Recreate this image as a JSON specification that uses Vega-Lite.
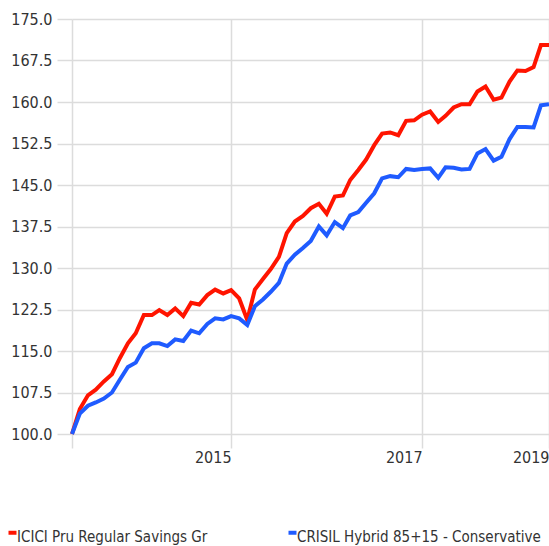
{
  "$schema": "https://vega.github.io/schema/vega-lite/v6.json",
  "autosize": "none",
  "width": 477,
  "height": 415,
  "padding": {"left": 72, "top": 19, "right": 0, "bottom": 112},
  "background": "white",
  "config": {
    "view": {"stroke": null},
    "font": "DejaVu Sans Condensed",
    "axis": {
      "grid": true,
      "gridColor": "#dcdcdc",
      "gridWidth": 1.5,
      "tickColor": "#dcdcdc",
      "tickWidth": 1.5,
      "domain": false,
      "labelFont": "DejaVu Sans Condensed",
      "labelFontSize": 16,
      "labelColor": "#333333",
      "title": null
    },
    "legend": {
      "labelFont": "DejaVu Sans Condensed",
      "labelFontSize": 15,
      "labelColor": "#333333"
    }
  },
  "data": {
    "values": [
      {"date": "2014-04-01", "series": "ICICI Pru Regular Savings Gr", "value": 100.0},
      {"date": "2014-05-01", "series": "ICICI Pru Regular Savings Gr", "value": 104.5},
      {"date": "2014-06-01", "series": "ICICI Pru Regular Savings Gr", "value": 107.0},
      {"date": "2014-07-01", "series": "ICICI Pru Regular Savings Gr", "value": 108.0},
      {"date": "2014-08-01", "series": "ICICI Pru Regular Savings Gr", "value": 109.5},
      {"date": "2014-09-01", "series": "ICICI Pru Regular Savings Gr", "value": 110.8},
      {"date": "2014-10-01", "series": "ICICI Pru Regular Savings Gr", "value": 113.7},
      {"date": "2014-11-01", "series": "ICICI Pru Regular Savings Gr", "value": 116.4},
      {"date": "2014-12-01", "series": "ICICI Pru Regular Savings Gr", "value": 118.2},
      {"date": "2015-01-01", "series": "ICICI Pru Regular Savings Gr", "value": 121.5},
      {"date": "2015-02-01", "series": "ICICI Pru Regular Savings Gr", "value": 121.5},
      {"date": "2015-03-01", "series": "ICICI Pru Regular Savings Gr", "value": 122.4},
      {"date": "2015-04-01", "series": "ICICI Pru Regular Savings Gr", "value": 121.5},
      {"date": "2015-05-01", "series": "ICICI Pru Regular Savings Gr", "value": 122.7},
      {"date": "2015-06-01", "series": "ICICI Pru Regular Savings Gr", "value": 121.3},
      {"date": "2015-07-01", "series": "ICICI Pru Regular Savings Gr", "value": 123.7},
      {"date": "2015-08-01", "series": "ICICI Pru Regular Savings Gr", "value": 123.4},
      {"date": "2015-09-01", "series": "ICICI Pru Regular Savings Gr", "value": 125.1},
      {"date": "2015-10-01", "series": "ICICI Pru Regular Savings Gr", "value": 126.1},
      {"date": "2015-11-01", "series": "ICICI Pru Regular Savings Gr", "value": 125.4},
      {"date": "2015-12-01", "series": "ICICI Pru Regular Savings Gr", "value": 126.0},
      {"date": "2016-01-01", "series": "ICICI Pru Regular Savings Gr", "value": 124.5},
      {"date": "2016-02-01", "series": "ICICI Pru Regular Savings Gr", "value": 120.6},
      {"date": "2016-03-01", "series": "ICICI Pru Regular Savings Gr", "value": 126.1},
      {"date": "2016-04-01", "series": "ICICI Pru Regular Savings Gr", "value": 128.0},
      {"date": "2016-05-01", "series": "ICICI Pru Regular Savings Gr", "value": 129.8},
      {"date": "2016-06-01", "series": "ICICI Pru Regular Savings Gr", "value": 132.0},
      {"date": "2016-07-01", "series": "ICICI Pru Regular Savings Gr", "value": 136.3},
      {"date": "2016-08-01", "series": "ICICI Pru Regular Savings Gr", "value": 138.4},
      {"date": "2016-09-01", "series": "ICICI Pru Regular Savings Gr", "value": 139.4},
      {"date": "2016-10-01", "series": "ICICI Pru Regular Savings Gr", "value": 140.8},
      {"date": "2016-11-01", "series": "ICICI Pru Regular Savings Gr", "value": 141.6},
      {"date": "2016-12-01", "series": "ICICI Pru Regular Savings Gr", "value": 139.8},
      {"date": "2017-01-01", "series": "ICICI Pru Regular Savings Gr", "value": 142.9},
      {"date": "2017-02-01", "series": "ICICI Pru Regular Savings Gr", "value": 143.1},
      {"date": "2017-03-01", "series": "ICICI Pru Regular Savings Gr", "value": 145.9},
      {"date": "2017-04-01", "series": "ICICI Pru Regular Savings Gr", "value": 147.7},
      {"date": "2017-05-01", "series": "ICICI Pru Regular Savings Gr", "value": 149.6},
      {"date": "2017-06-01", "series": "ICICI Pru Regular Savings Gr", "value": 152.2},
      {"date": "2017-07-01", "series": "ICICI Pru Regular Savings Gr", "value": 154.3},
      {"date": "2017-08-01", "series": "ICICI Pru Regular Savings Gr", "value": 154.5},
      {"date": "2017-09-01", "series": "ICICI Pru Regular Savings Gr", "value": 154.0},
      {"date": "2017-10-01", "series": "ICICI Pru Regular Savings Gr", "value": 156.6},
      {"date": "2017-11-01", "series": "ICICI Pru Regular Savings Gr", "value": 156.7},
      {"date": "2017-12-01", "series": "ICICI Pru Regular Savings Gr", "value": 157.7},
      {"date": "2018-01-01", "series": "ICICI Pru Regular Savings Gr", "value": 158.3},
      {"date": "2018-02-01", "series": "ICICI Pru Regular Savings Gr", "value": 156.4},
      {"date": "2018-03-01", "series": "ICICI Pru Regular Savings Gr", "value": 157.5},
      {"date": "2018-04-01", "series": "ICICI Pru Regular Savings Gr", "value": 159.0},
      {"date": "2018-05-01", "series": "ICICI Pru Regular Savings Gr", "value": 159.6},
      {"date": "2018-06-01", "series": "ICICI Pru Regular Savings Gr", "value": 159.6},
      {"date": "2018-07-01", "series": "ICICI Pru Regular Savings Gr", "value": 161.9},
      {"date": "2018-08-01", "series": "ICICI Pru Regular Savings Gr", "value": 162.8},
      {"date": "2018-09-01", "series": "ICICI Pru Regular Savings Gr", "value": 160.4},
      {"date": "2018-10-01", "series": "ICICI Pru Regular Savings Gr", "value": 160.8},
      {"date": "2018-11-01", "series": "ICICI Pru Regular Savings Gr", "value": 163.7},
      {"date": "2018-12-01", "series": "ICICI Pru Regular Savings Gr", "value": 165.7},
      {"date": "2019-01-01", "series": "ICICI Pru Regular Savings Gr", "value": 165.6},
      {"date": "2019-02-01", "series": "ICICI Pru Regular Savings Gr", "value": 166.3},
      {"date": "2019-03-01", "series": "ICICI Pru Regular Savings Gr", "value": 170.3},
      {"date": "2019-04-01", "series": "ICICI Pru Regular Savings Gr", "value": 170.3},
      {"date": "2014-04-01", "series": "CRISIL Hybrid 85+15 - Conservative", "value": 100.0},
      {"date": "2014-05-01", "series": "CRISIL Hybrid 85+15 - Conservative", "value": 103.7},
      {"date": "2014-06-01", "series": "CRISIL Hybrid 85+15 - Conservative", "value": 105.1},
      {"date": "2014-07-01", "series": "CRISIL Hybrid 85+15 - Conservative", "value": 105.7},
      {"date": "2014-08-01", "series": "CRISIL Hybrid 85+15 - Conservative", "value": 106.4},
      {"date": "2014-09-01", "series": "CRISIL Hybrid 85+15 - Conservative", "value": 107.5},
      {"date": "2014-10-01", "series": "CRISIL Hybrid 85+15 - Conservative", "value": 109.8},
      {"date": "2014-11-01", "series": "CRISIL Hybrid 85+15 - Conservative", "value": 112.1},
      {"date": "2014-12-01", "series": "CRISIL Hybrid 85+15 - Conservative", "value": 112.9},
      {"date": "2015-01-01", "series": "CRISIL Hybrid 85+15 - Conservative", "value": 115.5},
      {"date": "2015-02-01", "series": "CRISIL Hybrid 85+15 - Conservative", "value": 116.4},
      {"date": "2015-03-01", "series": "CRISIL Hybrid 85+15 - Conservative", "value": 116.4},
      {"date": "2015-04-01", "series": "CRISIL Hybrid 85+15 - Conservative", "value": 115.9},
      {"date": "2015-05-01", "series": "CRISIL Hybrid 85+15 - Conservative", "value": 117.1},
      {"date": "2015-06-01", "series": "CRISIL Hybrid 85+15 - Conservative", "value": 116.8},
      {"date": "2015-07-01", "series": "CRISIL Hybrid 85+15 - Conservative", "value": 118.7},
      {"date": "2015-08-01", "series": "CRISIL Hybrid 85+15 - Conservative", "value": 118.2},
      {"date": "2015-09-01", "series": "CRISIL Hybrid 85+15 - Conservative", "value": 119.9},
      {"date": "2015-10-01", "series": "CRISIL Hybrid 85+15 - Conservative", "value": 120.9},
      {"date": "2015-11-01", "series": "CRISIL Hybrid 85+15 - Conservative", "value": 120.7},
      {"date": "2015-12-01", "series": "CRISIL Hybrid 85+15 - Conservative", "value": 121.3},
      {"date": "2016-01-01", "series": "CRISIL Hybrid 85+15 - Conservative", "value": 120.9},
      {"date": "2016-02-01", "series": "CRISIL Hybrid 85+15 - Conservative", "value": 119.7},
      {"date": "2016-03-01", "series": "CRISIL Hybrid 85+15 - Conservative", "value": 123.1},
      {"date": "2016-04-01", "series": "CRISIL Hybrid 85+15 - Conservative", "value": 124.3},
      {"date": "2016-05-01", "series": "CRISIL Hybrid 85+15 - Conservative", "value": 125.7},
      {"date": "2016-06-01", "series": "CRISIL Hybrid 85+15 - Conservative", "value": 127.3},
      {"date": "2016-07-01", "series": "CRISIL Hybrid 85+15 - Conservative", "value": 130.8},
      {"date": "2016-08-01", "series": "CRISIL Hybrid 85+15 - Conservative", "value": 132.4},
      {"date": "2016-09-01", "series": "CRISIL Hybrid 85+15 - Conservative", "value": 133.6},
      {"date": "2016-10-01", "series": "CRISIL Hybrid 85+15 - Conservative", "value": 134.9},
      {"date": "2016-11-01", "series": "CRISIL Hybrid 85+15 - Conservative", "value": 137.5},
      {"date": "2016-12-01", "series": "CRISIL Hybrid 85+15 - Conservative", "value": 135.9},
      {"date": "2017-01-01", "series": "CRISIL Hybrid 85+15 - Conservative", "value": 138.3},
      {"date": "2017-02-01", "series": "CRISIL Hybrid 85+15 - Conservative", "value": 137.2},
      {"date": "2017-03-01", "series": "CRISIL Hybrid 85+15 - Conservative", "value": 139.5},
      {"date": "2017-04-01", "series": "CRISIL Hybrid 85+15 - Conservative", "value": 140.1},
      {"date": "2017-05-01", "series": "CRISIL Hybrid 85+15 - Conservative", "value": 141.8},
      {"date": "2017-06-01", "series": "CRISIL Hybrid 85+15 - Conservative", "value": 143.5},
      {"date": "2017-07-01", "series": "CRISIL Hybrid 85+15 - Conservative", "value": 146.2},
      {"date": "2017-08-01", "series": "CRISIL Hybrid 85+15 - Conservative", "value": 146.6},
      {"date": "2017-09-01", "series": "CRISIL Hybrid 85+15 - Conservative", "value": 146.4},
      {"date": "2017-10-01", "series": "CRISIL Hybrid 85+15 - Conservative", "value": 147.9},
      {"date": "2017-11-01", "series": "CRISIL Hybrid 85+15 - Conservative", "value": 147.7},
      {"date": "2017-12-01", "series": "CRISIL Hybrid 85+15 - Conservative", "value": 147.9},
      {"date": "2018-01-01", "series": "CRISIL Hybrid 85+15 - Conservative", "value": 148.0},
      {"date": "2018-02-01", "series": "CRISIL Hybrid 85+15 - Conservative", "value": 146.3},
      {"date": "2018-03-01", "series": "CRISIL Hybrid 85+15 - Conservative", "value": 148.2},
      {"date": "2018-04-01", "series": "CRISIL Hybrid 85+15 - Conservative", "value": 148.1},
      {"date": "2018-05-01", "series": "CRISIL Hybrid 85+15 - Conservative", "value": 147.8},
      {"date": "2018-06-01", "series": "CRISIL Hybrid 85+15 - Conservative", "value": 147.9},
      {"date": "2018-07-01", "series": "CRISIL Hybrid 85+15 - Conservative", "value": 150.7},
      {"date": "2018-08-01", "series": "CRISIL Hybrid 85+15 - Conservative", "value": 151.5},
      {"date": "2018-09-01", "series": "CRISIL Hybrid 85+15 - Conservative", "value": 149.4},
      {"date": "2018-10-01", "series": "CRISIL Hybrid 85+15 - Conservative", "value": 150.1},
      {"date": "2018-11-01", "series": "CRISIL Hybrid 85+15 - Conservative", "value": 153.3},
      {"date": "2018-12-01", "series": "CRISIL Hybrid 85+15 - Conservative", "value": 155.5},
      {"date": "2019-01-01", "series": "CRISIL Hybrid 85+15 - Conservative", "value": 155.5},
      {"date": "2019-02-01", "series": "CRISIL Hybrid 85+15 - Conservative", "value": 155.4},
      {"date": "2019-03-01", "series": "CRISIL Hybrid 85+15 - Conservative", "value": 159.4},
      {"date": "2019-04-01", "series": "CRISIL Hybrid 85+15 - Conservative", "value": 159.6}
    ]
  },
  "mark": {"type": "line", "strokeWidth": 4, "clip": false},
  "encoding": {
    "x": {
      "field": "date",
      "type": "temporal",
      "scale": {"type": "utc", "nice": false},
      "axis": {
        "values": [
          {"year": 2014, "month": 4, "date": 1, "utc": true},
          {"year": 2015, "month": 12, "date": 1, "utc": true},
          {"year": 2017, "month": 12, "date": 1, "utc": true},
          {"year": 2019, "month": 4, "date": 1, "utc": true}
        ],
        "labelExpr": "utcyear(datum.value) == 2014 ? '' : utcFormat(datum.value, '%Y')",
        "labelAlign": "right",
        "labelBaseline": "top",
        "labelDx": -3,
        "labelPadding": 1,
        "labelFlush": false,
        "labelOverlap": false,
        "tickSize": 14
      }
    },
    "y": {
      "field": "value",
      "type": "quantitative",
      "scale": {"domain": [100, 175], "nice": false, "zero": false},
      "axis": {
        "values": [100, 107.5, 115, 122.5, 130, 137.5, 145, 152.5, 160, 167.5, 175],
        "format": ".1f",
        "tickSize": 15,
        "labelPadding": 5,
        "labelBaseline": "middle"
      }
    },
    "color": {
      "field": "series",
      "type": "nominal",
      "sort": ["ICICI Pru Regular Savings Gr", "CRISIL Hybrid 85+15 - Conservative"],
      "scale": {
        "domain": ["ICICI Pru Regular Savings Gr", "CRISIL Hybrid 85+15 - Conservative"],
        "range": ["#ff1400", "#1f5bff"]
      },
      "legend": {
        "title": null,
        "orient": "none",
        "direction": "horizontal",
        "legendX": -67,
        "legendY": 510,
        "padding": 0,
        "symbolType": "M-1,-1H1",
        "symbolSize": 64,
        "symbolStrokeWidth": 4,
        "labelOffset": -3,
        "columnPadding": 72,
        "labelLimit": 400
      }
    }
  }
}
